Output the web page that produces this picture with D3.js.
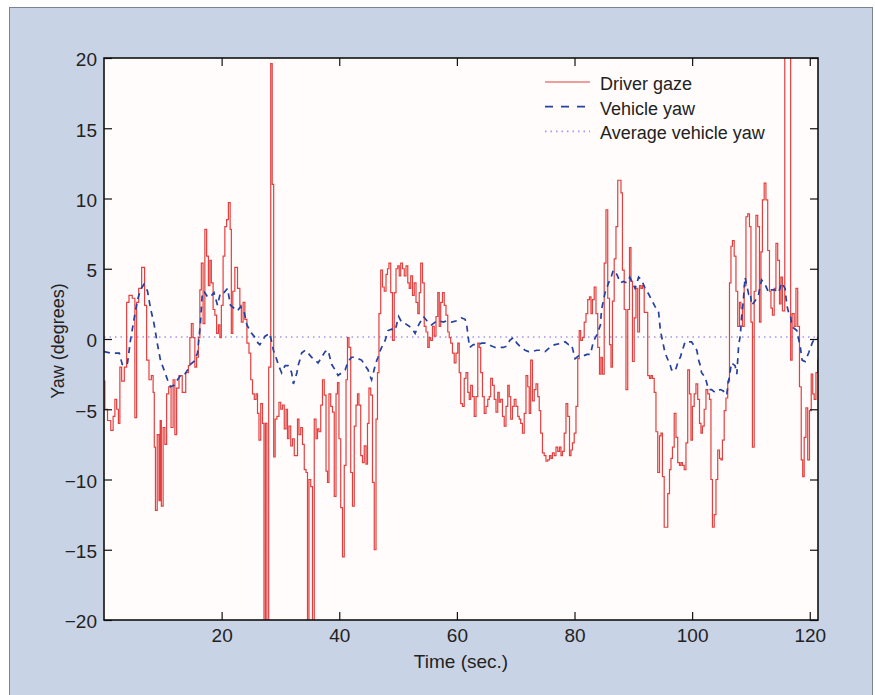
<!DOCTYPE html>
<html>
<head>
<meta charset="utf-8">
<script src="https://cdn.jsdelivr.net/npm/d3@7"></script>
<style>
  body { margin: 0; background: #fff; }
  svg { display: block; font-family: "Liberation Sans", Arial, sans-serif; }
</style>
</head>
<body>
<div class="chart-yaw"></div>
<script>
// [time (sec.), yaw (degrees)]
const driverGaze = [
  [0.0,-3.0],[0.3,-5.0],[0.9,-5.8],[1.4,-6.5],[1.7,-5.5],[2.0,-4.3],[2.3,-5.0],[2.6,-6.0],[2.8,-2.0],[3.2,-3.0],
  [3.7,-2.0],[4.0,2.6],[4.5,3.1],[5.1,2.9],[5.4,-5.6],[5.7,2.6],[6.1,3.6],[6.7,5.1],[7.1,2.4],[7.4,-1.5],
  [7.9,-2.9],[8.2,-2.6],[8.5,-3.8],[8.6,-7.7],[8.9,-12.2],[9.2,-6.8],[9.5,-11.5],[9.6,-5.8],[9.9,-11.9],[10.2,-6.3],
  [10.5,-7.5],[10.8,-3.9],[11.2,-3.4],[11.6,-6.3],[11.9,-2.9],[12.2,-6.8],[12.5,-3.5],[13.0,-2.6],[13.6,-3.8],[14.2,-2.4],
  [14.5,-1.9],[14.7,0.1],[15.0,1.1],[15.3,0.1],[15.6,-2.0],[15.9,-1.3],[16.2,0.1],[16.4,3.5],[16.7,5.4],[17.0,1.1],
  [17.3,7.8],[17.6,5.9],[17.9,3.8],[18.1,5.6],[18.4,4.0],[18.7,2.1],[19.0,1.7],[19.3,0.4],[19.6,1.0],[19.8,0.1],
  [20.1,2.4],[20.4,5.9],[20.7,8.0],[21.0,8.5],[21.3,9.7],[21.6,7.8],[21.7,0.4],[22.1,3.4],[22.4,5.1],[23.0,3.6],
  [23.2,2.4],[23.5,1.2],[23.8,2.6],[24.1,1.4],[24.5,-0.3],[24.8,-1.0],[25.1,-2.9],[25.4,-3.9],[25.7,-4.3],[26.0,-3.9],
  [26.2,-5.3],[26.5,-7.2],[26.8,-4.6],[27.1,-6.0],[27.3,-22],[27.6,-6.0],[27.8,-22],[28.2,-2.0],[28.5,19.6],[28.7,11.0],
  [29.0,-8.4],[29.2,-5.7],[29.6,-5.5],[29.9,-4.5],[30.2,-5.0],[30.5,-4.7],[30.8,-6.4],[31.1,-5.0],[31.3,-7.1],[31.6,-6.2],
  [31.9,-7.6],[32.2,-7.1],[32.5,-8.3],[32.8,-8.3],[33.0,-5.7],[33.3,-6.8],[33.6,-6.3],[33.9,-7.5],[34.2,-9.3],[34.5,-9.5],
  [34.7,-22],[35.0,-10.0],[35.3,-10.5],[35.6,-22],[35.9,-5.7],[36.2,-7.1],[36.4,-6.4],[36.7,-6.6],[37.0,-4.7],[37.3,-2.9],
  [37.6,-4.0],[37.9,-9.4],[38.1,-10.2],[38.4,-3.9],[38.7,-4.8],[39.0,-5.2],[39.3,-11.2],[39.6,-3.9],[39.8,-3.1],[40.1,-7.1],
  [40.4,-12.0],[40.7,-15.5],[41.0,-9.0],[41.3,-2.9],[41.5,0.1],[41.8,-0.6],[42.1,-9.5],[42.4,-11.9],[42.7,-6.2],[43.0,-4.7],
  [43.2,-3.9],[43.5,-4.7],[43.8,-8.3],[44.1,-8.8],[44.4,-7.6],[44.7,-8.9],[44.9,-6.0],[45.2,-3.5],[45.5,-4.0],[45.8,-10.2],
  [46.1,-15.0],[46.4,-5.7],[46.6,-2.4],[46.9,1.8],[47.2,4.9],[47.5,3.7],[47.8,3.4],[48.1,4.6],[48.3,5.0],[48.6,5.4],
  [48.9,3.3],[49.2,-0.1],[49.5,3.3],[49.8,5.0],[50.1,5.2],[50.3,4.5],[50.6,5.4],[50.9,5.0],[51.2,4.5],[51.5,5.2],
  [51.8,4.0],[52.0,3.6],[52.3,4.5],[52.6,3.1],[52.9,4.0],[53.2,2.6],[53.5,1.8],[53.7,3.3],[54.0,5.4],[54.3,4.0],
  [54.6,0.9],[54.9,0.5],[55.2,-0.6],[55.4,0.1],[55.7,-0.1],[56.0,0.9],[56.3,0.2],[56.6,1.6],[56.9,3.3],[57.1,0.9],
  [57.4,2.6],[57.7,3.3],[58.0,2.4],[58.3,1.7],[58.6,0.5],[58.8,0.1],[59.1,-0.3],[59.4,-1.0],[59.7,-1.7],[60.0,-1.0],
  [60.3,-0.3],[60.5,-2.4],[60.8,-4.6],[61.1,-4.8],[61.4,-2.8],[61.7,-2.4],[62.0,-3.8],[62.2,-4.3],[62.5,-3.3],[62.8,-4.1],
  [63.1,-5.5],[63.4,-4.1],[63.7,-0.3],[63.9,-0.6],[64.2,-2.4],[64.5,-4.1],[64.8,-5.3],[65.1,-4.8],[65.4,-4.3],[65.6,-4.1],
  [65.9,-2.8],[66.2,-3.3],[66.5,-4.3],[66.8,-5.2],[67.1,-3.8],[67.3,-4.5],[67.6,-4.3],[67.9,-5.5],[68.2,-6.2],[68.5,-4.8],
  [68.8,-3.3],[69.0,-4.1],[69.3,-5.7],[69.6,-4.8],[69.9,-4.3],[70.2,-4.8],[70.5,-5.5],[70.7,-5.7],[71.0,-6.0],[71.3,-6.7],
  [71.6,-5.3],[71.9,-2.6],[72.2,-3.4],[72.4,-5.3],[72.7,-1.5],[73.0,-4.4],[73.3,-3.6],[73.6,-3.2],[73.9,-4.1],[74.1,-5.1],
  [74.4,-6.7],[74.7,-8.1],[75.0,-8.3],[75.3,-8.7],[75.6,-8.6],[75.9,-8.3],[76.1,-8.5],[76.4,-8.1],[76.7,-8.3],[77.0,-7.7],
  [77.3,-8.0],[77.6,-7.7],[77.8,-8.3],[78.1,-8.0],[78.4,-6.7],[78.7,-4.6],[79.0,-5.5],[79.3,-8.3],[79.5,-7.9],[79.8,-7.4],
  [80.1,-6.7],[80.4,-4.8],[80.7,-1.4],[80.9,0.6],[81.2,-0.1],[81.5,0.1],[81.8,1.2],[82.1,1.8],[82.4,2.8],[82.7,3.0],
  [82.9,1.8],[83.2,2.8],[83.5,3.7],[83.8,1.8],[84.1,-0.6],[84.4,-2.5],[84.6,-1.3],[84.9,-2.5],[85.2,5.4],[85.5,9.2],
  [85.8,2.9],[86.1,-0.4],[86.3,-2.0],[86.6,2.7],[86.9,5.7],[87.2,8.0],[87.5,11.3],[87.8,11.3],[88.0,10.4],[88.3,4.9],
  [88.6,2.1],[88.9,-3.6],[89.2,2.1],[89.5,6.5],[89.7,4.1],[90.0,-1.6],[90.3,1.5],[90.6,3.6],[90.9,0.5],[91.2,3.8],
  [91.4,3.6],[91.7,3.8],[92.0,1.9],[92.3,1.9],[92.6,-2.6],[92.9,-2.8],[93.1,-2.6],[93.4,-2.8],[93.7,-3.8],[94.0,-6.6],
  [94.3,-9.5],[94.6,-6.9],[94.8,-6.7],[95.1,-9.8],[95.4,-13.4],[95.7,-13.4],[96.0,-11.0],[96.3,-9.3],[96.5,-8.5],[96.8,-7.7],
  [97.1,-5.3],[97.4,-7.0],[97.7,-8.8],[98.0,-9.0],[98.2,-8.8],[98.5,-9.0],[98.8,-9.3],[99.1,-7.4],[99.4,-2.2],[99.7,-3.9],
  [99.9,-7.2],[100.2,-4.8],[100.5,-3.9],[100.8,-3.2],[101.1,-4.3],[101.4,-6.0],[101.6,-6.7],[101.9,-6.2],[102.2,-5.0],[102.5,-3.6],
  [102.8,-3.9],[103.1,-4.3],[103.3,-10.0],[103.6,-13.4],[103.9,-12.5],[104.2,-10.0],[104.5,-7.9],[104.8,-8.5],[105.0,-8.6],[105.3,-7.2],
  [105.6,-5.1],[105.9,-4.2],[106.2,-3.0],[106.5,4.0],[106.7,6.6],[107.0,7.0],[107.3,5.9],[107.6,3.4],[107.9,0.9],[108.2,2.6],
  [108.4,2.2],[108.7,0.9],[109.0,3.8],[109.3,8.7],[109.6,8.9],[109.9,8.0],[110.1,1.2],[110.4,-7.7],[110.7,3.4],[111.0,8.8],
  [111.3,8.0],[111.6,1.2],[111.8,6.2],[112.1,9.9],[112.4,11.1],[112.7,9.9],[113.0,6.3],[113.3,3.4],[113.5,2.2],[113.8,1.7],
  [114.1,3.6],[114.4,6.8],[114.7,5.6],[115.0,2.5],[115.2,4.4],[115.5,2.0],[116.0,22],[116.7,22],[116.8,-1.5],[117.2,1.8],
  [117.5,0.9],[117.8,3.6],[118.1,0.9],[118.4,-3.4],[118.7,-8.6],[118.9,-9.8],[119.2,-7.0],[119.5,-4.9],[119.8,-8.6],[120.1,-5.1],
  [120.4,-2.5],[120.6,-3.9],[120.9,-4.3],[121.2,-2.4],[121.5,-1.5]
];

const vehicleYaw = [
  [0.0,-0.9],[1.1,-1.0],[2.6,-1.0],[3.1,-1.8],[3.7,-1.9],[4.0,-1.7],[4.5,-0.1],[5.1,1.4],[5.7,2.8],[6.2,3.5],
  [6.8,3.9],[7.4,3.4],[7.9,2.2],[8.5,1.1],[9.1,-0.4],[9.6,-1.5],[10.2,-2.2],[10.8,-2.9],[11.3,-3.4],[11.9,-3.3],
  [12.5,-2.9],[13.0,-2.6],[13.6,-2.6],[14.2,-2.2],[14.7,-1.8],[15.3,-1.6],[15.9,-1.0],[16.4,1.1],[16.7,3.2],[17.0,3.4],
  [17.6,3.0],[18.1,3.0],[18.7,3.3],[19.3,2.4],[19.8,3.3],[20.4,3.3],[21.0,3.6],[21.5,2.4],[22.1,2.2],[22.7,2.0],
  [23.2,2.3],[23.8,2.0],[24.3,1.0],[25.1,0.4],[25.7,0.1],[26.2,-0.3],[26.5,-0.4],[27.1,0.0],[27.4,0.2],[28.2,0.4],
  [28.8,-0.8],[29.4,-1.5],[29.6,-1.8],[30.2,-2.4],[30.5,-2.1],[30.8,-1.9],[31.3,-1.9],[31.6,-2.1],[31.9,-2.4],[32.2,-3.2],
  [32.5,-2.8],[32.8,-2.4],[33.0,-1.9],[33.3,-1.5],[33.6,-1.0],[34.2,-0.8],[34.7,-1.0],[35.3,-1.3],[35.9,-1.5],[36.4,-1.7],
  [37.0,-1.3],[37.6,-0.9],[38.1,-0.8],[38.7,-1.8],[39.3,-2.2],[39.8,-2.6],[40.4,-2.4],[41.0,-2.2],[41.5,-1.6],[42.1,-1.3],
  [42.7,-1.3],[43.2,-1.4],[43.8,-1.5],[44.4,-1.9],[44.9,-2.2],[45.2,-2.6],[45.5,-2.9],[45.8,-2.4],[46.1,-1.9],[46.4,-1.5],
  [46.6,-1.3],[46.9,-0.9],[47.2,-0.6],[47.8,-0.1],[48.3,0.6],[48.9,0.7],[49.5,0.6],[50.1,1.6],[50.6,1.2],[51.2,1.1],
  [52.3,0.8],[52.9,0.4],[53.5,1.0],[54.3,1.6],[54.9,1.3],[55.7,1.0],[56.3,1.2],[56.9,1.3],[57.7,1.2],[58.3,1.3],
  [59.1,1.2],[60.0,1.3],[60.8,1.5],[61.4,1.4],[61.7,0.9],[62.0,-0.1],[62.2,-0.6],[62.8,-0.4],[63.7,-0.4],[64.2,-0.3],
  [64.8,-0.3],[65.4,-0.4],[65.9,-0.5],[66.5,-0.6],[67.3,-0.6],[67.9,-0.6],[68.5,-0.5],[69.0,-0.1],[69.6,0.1],[70.2,-0.3],
  [70.7,-0.5],[71.6,-0.8],[72.2,-0.9],[72.7,-0.9],[73.6,-0.8],[74.1,-0.8],[75.0,-0.9],[76.1,-0.5],[76.7,-0.4],[77.8,-0.3],
  [78.4,-0.2],[79.0,-0.4],[79.5,-0.4],[79.8,-0.9],[80.1,-1.4],[80.7,-1.2],[81.5,-1.2],[82.1,-1.1],[82.7,-1.1],[83.2,-0.2],
  [83.8,0.3],[84.4,1.0],[84.6,2.1],[85.2,3.3],[85.8,4.0],[86.3,4.5],[86.6,4.9],[87.2,4.6],[87.8,4.0],[88.3,4.1],
  [88.9,4.0],[89.4,4.4],[90.3,3.6],[90.9,4.4],[91.4,4.2],[92.0,3.6],[92.6,3.2],[93.1,2.8],[93.7,2.3],[94.3,1.9],
  [94.6,0.6],[94.8,0.2],[95.4,-1.0],[96.0,-1.6],[96.3,-1.9],[96.5,-2.2],[97.1,-2.3],[97.7,-1.5],[98.0,-1.3],[98.2,-1.0],
  [98.8,-0.2],[99.4,-0.2],[99.9,-0.2],[100.5,-0.6],[100.8,-0.8],[101.1,-1.5],[101.4,-1.9],[101.6,-2.4],[102.2,-2.7],[102.8,-3.6],
  [103.3,-3.6],[103.9,-3.8],[104.8,-3.6],[105.3,-3.7],[105.6,-4.0],[105.9,-3.9],[106.2,-3.0],[106.7,-1.7],[107.3,-1.9],[107.6,-2.5],
  [107.9,-0.5],[108.2,0.3],[108.4,1.5],[108.7,2.7],[109.0,4.4],[109.3,3.8],[109.6,3.2],[109.9,3.3],[110.1,2.4],[110.7,2.7],
  [111.3,3.2],[111.8,4.2],[112.4,3.9],[113.0,3.3],[113.5,3.5],[114.1,3.5],[114.7,3.3],[115.2,4.0],[115.8,3.6],[116.1,2.4],
  [116.4,1.9],[116.7,1.7],[116.9,1.1],[117.2,0.8],[117.8,0.6],[118.4,-0.6],[118.7,-1.5],[119.2,-1.6],[119.8,-1.0],[120.4,-0.3],
  [120.9,0.1],[121.5,0.1]
];

const averageYaw = 0.15;
const timeRange = [0, 121.4];
const yawRange = [-20, 20];
const xTicks = [20, 40, 60, 80, 100, 120];
const yTicks = [-20, -15, -10, -5, 0, 5, 10, 15, 20];
const legendNames = ['Driver gaze', 'Vehicle yaw', 'Average vehicle yaw'];

const margin = { top: 58, right: 57, bottom: 75, left: 104 };
const width = 875 - margin.left - margin.right,
  height = 695 - margin.top - margin.bottom;

const root = d3.select('.chart-yaw').append('svg')
  .attr('width', 875)
  .attr('height', 695);

// blue card behind the figure
root.append('rect')
  .attr('x', 9.5).attr('y', 7.5)
  .attr('width', 863).attr('height', 700)
  .attr('fill', '#c9d3e6')
  .attr('stroke', '#7d838e')
  .attr('stroke-width', 1);

const svg = root.append('g')
  .attr('transform', 'translate(' + margin.left + ',' + margin.top + ')');

svg.append('rect')
  .attr('width', width).attr('height', height)
  .attr('fill', '#fffcfb');

svg.append('clipPath').attr('id', 'plot-clip')
  .append('rect').attr('width', width).attr('height', height);

const x = d3.scaleLinear().domain(timeRange).range([0, width]);
const y = d3.scaleLinear().domain(yawRange).range([height, 0]);

const line = d3.line()
  .x((d) => x(d[0]))
  .y((d) => y(d[1]));

// gaze is sampled and held, so it is drawn as steps
const stepLine = d3.line()
  .curve(d3.curveStep)
  .x((d) => x(d[0]))
  .y((d) => y(d[1]));

const plot = svg.append('g').attr('clip-path', 'url(#plot-clip)');

// average vehicle yaw
plot.append('path')
  .datum(timeRange.map((t) => [t, averageYaw]))
  .attr('d', line)
  .attr('fill', 'none')
  .attr('stroke', '#a295ee')
  .attr('stroke-width', 1.5)
  .attr('stroke-dasharray', '1.5,4');

// driver gaze
plot.append('path')
  .datum(driverGaze)
  .attr('d', stepLine)
  .attr('fill', 'none')
  .attr('stroke', '#e2403f')
  .attr('stroke-width', 1.2);

// vehicle yaw
plot.append('path')
  .datum(vehicleYaw)
  .attr('d', line)
  .attr('fill', 'none')
  .attr('stroke', '#2341a0')
  .attr('stroke-width', 1.7)
  .attr('stroke-dasharray', '6,5');

// axes, ticks point inward
const fontSize = '19px';

const xAxis = svg.append('g')
  .attr('transform', 'translate(0,' + height + ')')
  .call(d3.axisBottom(x).tickValues(xTicks).tickSize(-8).tickSizeOuter(0).tickPadding(9));

const yAxis = svg.append('g')
  .call(d3.axisLeft(y).tickValues(yTicks).tickSize(-8).tickSizeOuter(0).tickPadding(7));

svg.append('g')
  .call(d3.axisTop(x).tickValues(xTicks).tickSize(-8).tickSizeOuter(0).tickFormat(''));

svg.append('g')
  .attr('transform', 'translate(' + width + ',0)')
  .call(d3.axisRight(y).tickValues(yTicks).tickSize(-8).tickSizeOuter(0).tickFormat(''));

svg.selectAll('.domain').remove();
svg.selectAll('.tick line').attr('stroke', '#111').attr('stroke-width', 1.2);
svg.selectAll('.tick text')
  .attr('fill', '#222')
  .style('font-size', fontSize);
yAxis.selectAll('.tick text').attr('dy', '0.42em');

// box round the plot
svg.append('rect')
  .attr('width', width).attr('height', height)
  .attr('fill', 'none')
  .attr('stroke', '#111')
  .attr('stroke-width', 1.6);

// axis titles
svg.append('text')
  .attr('x', width / 2)
  .attr('y', height + 48)
  .attr('text-anchor', 'middle')
  .attr('fill', '#222')
  .style('font-size', fontSize)
  .text('Time (sec.)');

svg.append('text')
  .attr('transform', 'translate(' + (-40) + ',' + (height / 2 + 2) + ') rotate(-90)')
  .attr('text-anchor', 'middle')
  .attr('fill', '#222')
  .style('font-size', '18px')
  .text('Yaw (degrees)');

// legend
const legendStyles = [
  { stroke: '#e2403f', width: 1.1, dash: null },
  { stroke: '#2341a0', width: 1.7, dash: '8,8' },
  { stroke: '#a295ee', width: 1.6, dash: '1.5,4' },
];

const legend = svg.append('g')
  .attr('transform', 'translate(441,24)');

const rows = legend.selectAll('g')
  .data(legendNames)
  .enter()
  .append('g')
  .attr('transform', (d, i) => 'translate(0,' + i * 24.7 + ')');

rows.append('line')
  .attr('x1', 0).attr('x2', 45)
  .attr('stroke', (d, i) => legendStyles[i].stroke)
  .attr('stroke-width', (d, i) => legendStyles[i].width)
  .attr('stroke-dasharray', (d, i) => legendStyles[i].dash);

rows.append('text')
  .attr('x', 55)
  .attr('y', 8)
  .attr('fill', '#222')
  .style('font-size', '18px')
  .text((d) => d);
</script>
</body>
</html>
